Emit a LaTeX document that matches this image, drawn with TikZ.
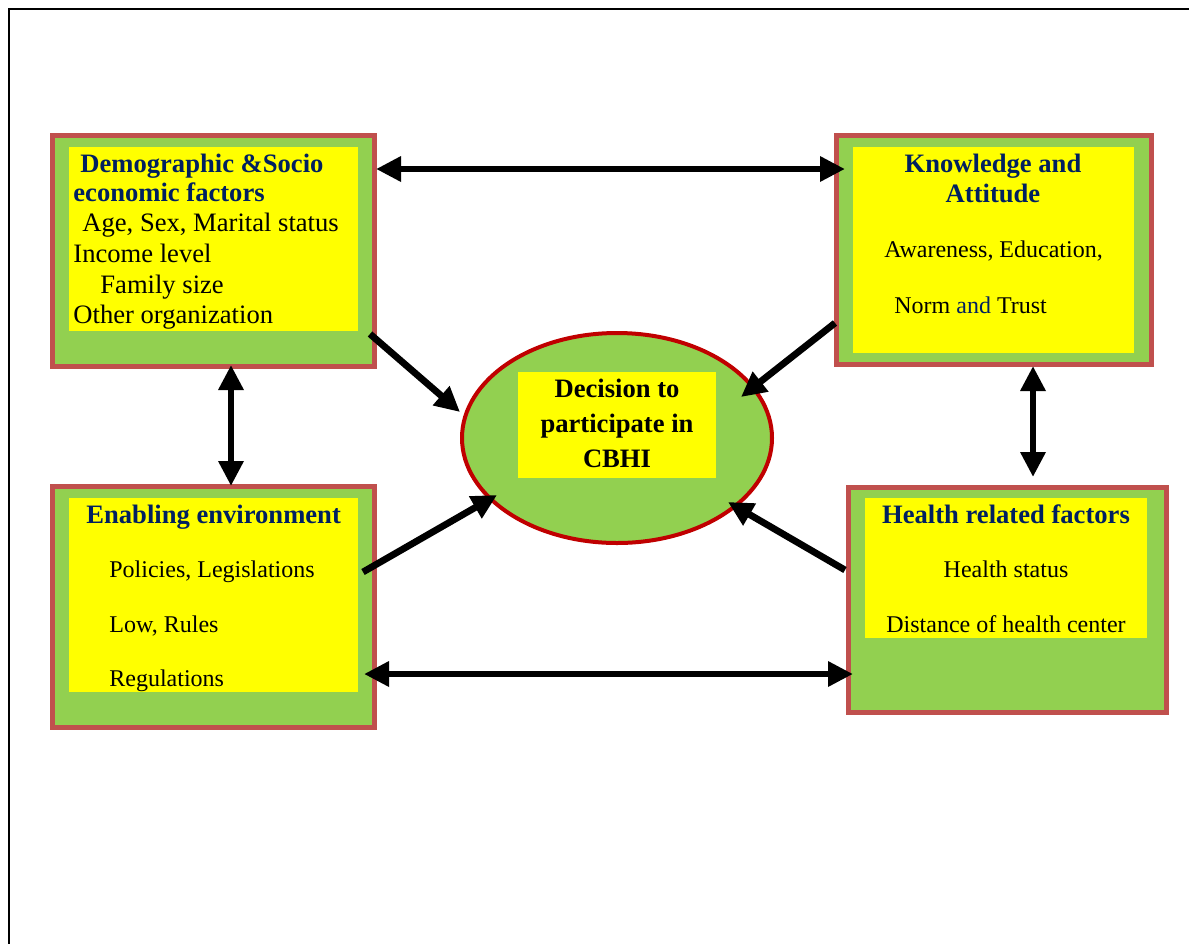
\documentclass[tikz,border=0pt]{standalone}
\usepackage{fontspec}
\setmainfont{Liberation Serif}
\usetikzlibrary{shapes.geometric,arrows.meta,fit,calc}
\definecolor{boxred}{RGB}{192,80,77}
\definecolor{ellred}{RGB}{192,0,0}
\definecolor{leafgreen}{RGB}{146,208,80}
\definecolor{panelyellow}{RGB}{255,255,0}
\definecolor{headnavy}{RGB}{0,32,96}
\tikzset{
  outerbox/.style={draw=boxred, line width=2.5pt, fill=leafgreen, inner sep=0pt, outer sep=0pt},
  panel/.style={fill=panelyellow, inner sep=0pt, outer sep=0pt},
  head/.style={font=\fontsize{13.3}{16}\selectfont\bfseries, text=headnavy, inner sep=0pt},
  bigbody/.style={font=\fontsize{13.3}{16}\selectfont, inner sep=0pt},
  body/.style={font=\fontsize{12}{14}\selectfont, inner sep=0pt},
  decision/.style={font=\fontsize{13.3}{16}\selectfont\bfseries, inner sep=0pt},
  link/.style={line width=3.4pt, {Triangle[length=12.5pt,width=12pt]}-{Triangle[length=12.5pt,width=12pt]}},
  push/.style={line width=3.4pt, -{Triangle[length=12.5pt,width=12pt]}},
}
\begin{document}
\begin{tikzpicture}[x=0.5pt,y=-0.5pt]
\useasboundingbox (0,0) rectangle (1189,943);
\draw[line width=1pt] (9,950) -- (9,9) -- (1200,9);

\node[outerbox, fit={(52,135) (374,366)}] (demo) {};
\node[outerbox, fit={(836,135) (1151,364)}] (know) {};
\node[outerbox, fit={(52,486) (374,727)}] (enab) {};
\node[outerbox, fit={(848,487) (1166,712)}] (health) {};
\node[ellipse, draw=ellred, line width=2pt, fill=leafgreen, inner sep=0pt,
  minimum width=155pt, minimum height=105pt] (cbhi) at (617,438) {};

\node[panel, fit={(69,147) (358,331)}] (demopanel) {};
\node[panel, fit={(853,147) (1134,353)}] (knowpanel) {};
\node[panel, fit={(69,498) (358,692)}] (enabpanel) {};
\node[panel, fit={(865,498) (1147,638)}] (healthpanel) {};
\node[panel, fit={(518,372) (716,478)}] (cbhipanel) {};

% demographic
\node[head, anchor=base west] (demohead1) at (80,172) {Demographic \&Socio};
\node[head, anchor=base west] (demohead2) at (73,201) {economic factors};
\node[bigbody, anchor=base west] (demoage) at (82,231) {Age, Sex, Marital status};
\node[bigbody, anchor=base west] (demoincome) at (73,262) {Income level};
\node[bigbody, anchor=base west] (demofamily) at (100,293) {Family size};
\node[bigbody, anchor=base west] (demoother) at (73,323) {Other organization};

% knowledge
\node[head, anchor=base] (knowhead1) at (993,172) {Knowledge and};
\node[head, anchor=base] (knowhead2) at (993,202) {Attitude};
\node[body, anchor=base west] (knowaware) at (884,257) {Awareness, Education,};
\node[body, anchor=base west] (knownorm) at (894,313) {Norm \textcolor{headnavy}{and} Trust};

% enabling
\node[head, anchor=base west] (enabhead) at (86,523) {Enabling environment};
\node[body, anchor=base west] (enabpol) at (109,577) {Policies, Legislations};
\node[body, anchor=base west] (enablow) at (109,632) {Low, Rules};
\node[body, anchor=base west] (enabreg) at (109,686) {Regulations};

% health
\node[head, anchor=base] (healthhead) at (1006,523) {Health related factors};
\node[body, anchor=base] (healthstatus) at (1006,577) {Health status};
\node[body, anchor=base] (healthdist) at (1006,632) {Distance of health center};

% decision
\node[decision, anchor=base] (dec1) at (617,397) {Decision to};
\node[decision, anchor=base] (dec2) at (617,432) {participate in};
\node[decision, anchor=base] (dec3) at (617,467) {CBHI};

\draw[link] ($(demo.north east)+(2,34)$) -- ($(know.north west)+(9,34)$);
\draw[link] ($(enab.south east)+(-10,-53)$) -- ($(health.south west)+(5,-38)$);
\draw[link] ($(demo.south)+(18,-1)$) -- ($(enab.north)+(18,0)$);
\draw[link] ($(know.south)+(39.5,2)$) -- ($(health.north)+(26,-10)$);
\draw[push] ($(demo.south east)+(-4,-32)$) -- ($(cbhi.center)+(-157,-26)$);
\draw[push] ($(know.south west)+(-1,-41)$) -- ($(cbhi.center)+(124,-41)$);
\draw[push] ($(enab.north east)+(-11,86)$) -- ($(cbhi.center)+(-120,57)$);
\draw[push] ($(health.north west)+(-3,83)$) -- ($(cbhi.center)+(111,64)$);
\end{tikzpicture}
\end{document}
